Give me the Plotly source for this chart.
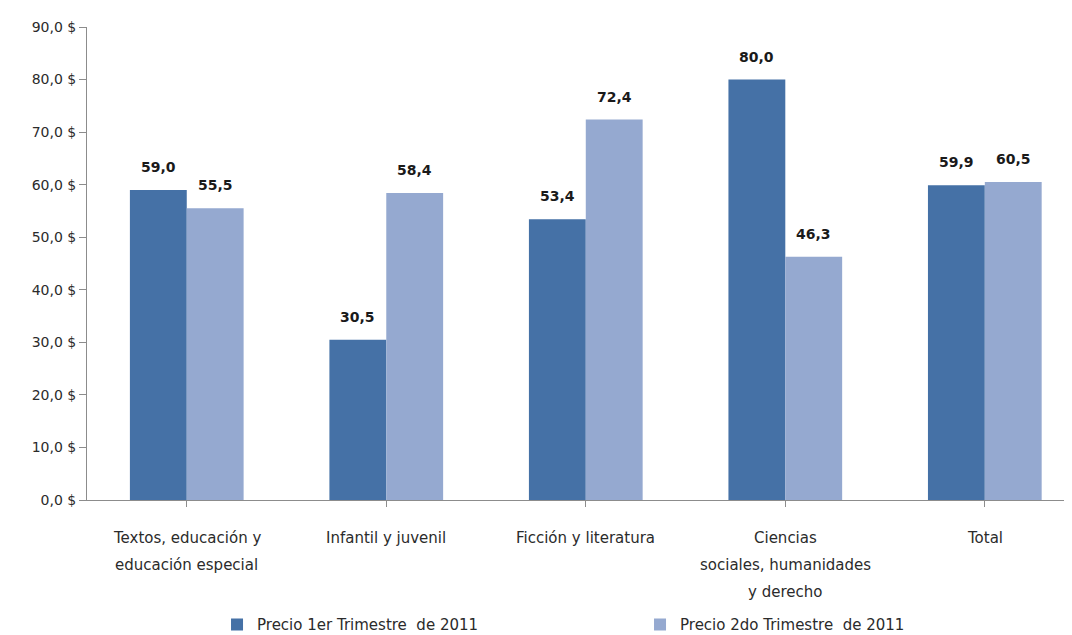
import plotly.graph_objects as go

categories = ["Textos, educación y<br>educación especial", "Infantil y juvenil",
              "Ficción y literatura", "Ciencias<br>sociales, humanidades<br>y derecho", "Total"]
series_names = ["Precio 1er Trimestre  de 2011", "Precio 2do Trimestre  de 2011"]
q1 = [59.0, 30.5, 53.4, 80.0, 59.9]
q2 = [55.5, 58.4, 72.4, 46.3, 60.5]
tick_vals = [0, 10, 20, 30, 40, 50, 60, 70, 80, 90]
tick_text = ["0,0 $", "10,0 $", "20,0 $", "30,0 $", "40,0 $", "50,0 $", "60,0 $", "70,0 $", "80,0 $", "90,0 $"]

colors = ["#4571A6", "#95A9D0"]
font = "DejaVu Sans"
txtcol = "#2b2b2b"
bargap = 0.43

fig = go.Figure()
for name, vals, c in zip(series_names, [q1, q2], colors):
    fig.add_trace(go.Bar(x=list(range(len(categories))), y=vals, name=name,
                         marker=dict(color=c, line=dict(width=0))))

half = (1 - bargap) / 4
anns = []
for s, vals in enumerate([q1, q2]):
    for i, v in enumerate(vals):
        anns.append(dict(x=i + (-half if s == 0 else half), y=v, xref="x", yref="y",
                         text="<b>" + f"{v:.1f}".replace(".", ",") + "</b>",
                         showarrow=False, yanchor="middle", yshift=23,
                         font=dict(family=font, size=14, color="#1a1a1a")))

# category labels, one annotation per line for Excel-like line spacing
for i, cat in enumerate(categories):
    for k, line in enumerate(cat.split("<br>")):
        anns.append(dict(x=i, y=0, xref="x", yref="y", text=line, showarrow=False,
                         yanchor="middle", yshift=-(38 + 27 * k),
                         font=dict(family=font, size=15, color=txtcol)))

fig.update_layout(
    width=1072, height=635,
    margin=dict(l=79, r=8, t=19, b=143, autoexpand=False),
    paper_bgcolor="white", plot_bgcolor="white",
    barmode="group", bargap=bargap, bargroupgap=0,
    font=dict(family=font, size=15, color=txtcol),
    annotations=anns,
    showlegend=True,
    legend=dict(orientation="h", x=0.132, xanchor="left", y=-0.264, yanchor="middle",
                font=dict(family=font, size=15, color=txtcol),
                entrywidth=378, entrywidthmode="pixels", itemwidth=30),
    xaxis=dict(range=[-0.5, 4.437], tickmode="array",
               tickvals=list(range(len(categories))), ticktext=categories,
               showticklabels=False, tickson="boundaries",
               showline=True, linecolor="#8c8c8c", linewidth=1,
               ticks="outside", ticklen=6, tickcolor="#8c8c8c",
               showgrid=False, zeroline=False, automargin=False),
    yaxis=dict(range=[0, 90], tickmode="array", tickvals=tick_vals, ticktext=tick_text,
               showline=True, linecolor="#8c8c8c", linewidth=1,
               ticks="outside", ticklen=7, tickcolor="#8c8c8c",
               showgrid=False, zeroline=False, automargin=False,
               tickfont=dict(family=font, size=14, color=txtcol)),
)

fig.write_html("out.html")
